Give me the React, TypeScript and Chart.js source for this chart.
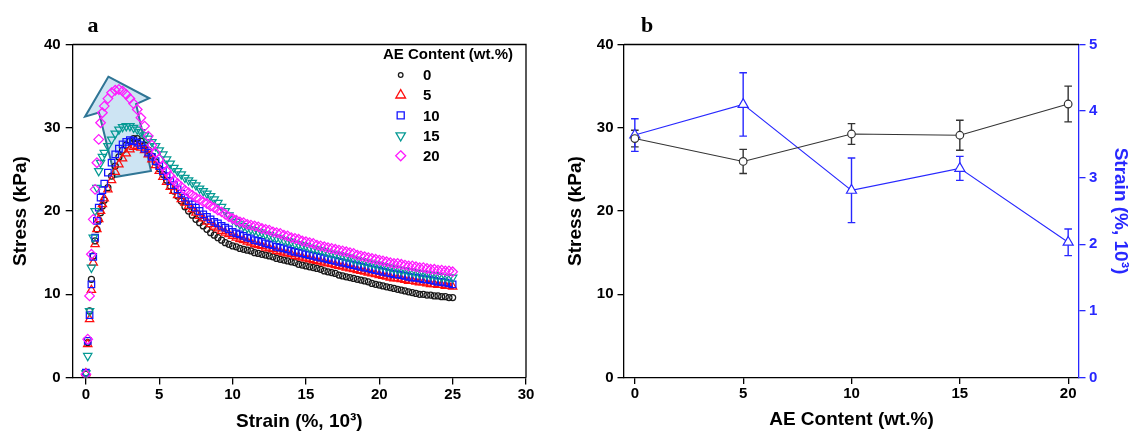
import React, { useEffect, useRef } from 'react';
import { Chart, registerables } from 'chart.js';

Chart.register(...registerables);

// ---------- Panel a: stress-strain curves ----------
const STRAIN = [
  0, 0.125, 0.25, 0.375, 0.5, 0.625, 0.75, 0.875, 1, 1.125,
  1.25, 1.5, 1.75, 2, 2.25, 2.5, 2.75, 3, 3.25, 3.5,
  3.75, 4, 4.25, 4.5, 4.75, 5, 5.25, 5.5, 5.75, 6,
  6.25, 6.5, 6.75, 7, 7.25, 7.5, 7.75, 8, 8.25, 8.5,
  8.75, 9, 9.25, 9.5, 9.75, 10, 10.25, 10.5, 10.75, 11,
  11.25, 11.5, 11.75, 12, 12.25, 12.5, 12.75, 13, 13.25, 13.5,
  13.75, 14, 14.25, 14.5, 14.75, 15, 15.25, 15.5, 15.75, 16,
  16.25, 16.5, 16.75, 17, 17.25, 17.5, 17.75, 18, 18.25, 18.5,
  18.75, 19, 19.25, 19.5, 19.75, 20, 20.25, 20.5, 20.75, 21,
  21.25, 21.5, 21.75, 22, 22.25, 22.5, 22.75, 23, 23.25, 23.5,
  23.75, 24, 24.25, 24.5, 24.75, 25,
];

const STRESS_AE0 = [
  0.4, 4.2, 8.0, 11.8, 14.6, 16.4, 17.8, 18.9, 19.8, 20.6,
  21.3, 22.8, 24.2, 25.4, 26.5, 27.3, 27.9, 28.4, 28.7, 28.7,
  28.4, 27.9, 27.3, 26.6, 25.9, 25.1, 24.4, 23.7, 23.0, 22.4,
  21.8, 21.2, 20.5, 20.0, 19.5, 19.0, 18.6, 18.2, 17.8, 17.4,
  17.1, 16.8, 16.5, 16.2, 16.0, 15.8, 15.7, 15.5, 15.4, 15.3,
  15.2, 15.0, 14.9, 14.8, 14.7, 14.6, 14.5, 14.3, 14.2, 14.1,
  14.0, 13.9, 13.8, 13.6, 13.5, 13.4, 13.3, 13.2, 13.1, 13.0,
  12.8, 12.7, 12.6, 12.5, 12.3, 12.2, 12.1, 12.0, 11.9, 11.8,
  11.7, 11.6, 11.5, 11.3, 11.2, 11.1, 11.0, 10.9, 10.8, 10.7,
  10.6, 10.5, 10.4, 10.3, 10.2, 10.1, 10.0, 10.0, 9.9, 9.9,
  9.8, 9.8, 9.7, 9.7, 9.6, 9.6,
];

const STRESS_AE5 = [
  0.5, 4.0, 7.0, 10.5, 13.8, 16.0, 17.8, 19.0, 20.0, 20.8,
  21.5, 22.6, 23.7, 24.7, 25.6, 26.3, 26.9, 27.4, 27.7, 27.8,
  27.6, 27.3, 26.8, 26.2, 25.5, 24.8, 24.1, 23.5, 22.9, 22.4,
  21.9, 21.4, 21.0, 20.6, 20.2, 19.8, 19.4, 19.1, 18.7, 18.4,
  18.1, 17.9, 17.6, 17.4, 17.2, 17.0, 16.8, 16.6, 16.5, 16.3,
  16.2, 16.0, 15.9, 15.8, 15.6, 15.5, 15.4, 15.2, 15.1, 15.0,
  14.9, 14.8, 14.6, 14.5, 14.4, 14.3, 14.2, 14.1, 14.0, 13.9,
  13.8, 13.7, 13.6, 13.5, 13.4, 13.3, 13.2, 13.1, 13.0, 12.9,
  12.8, 12.7, 12.6, 12.5, 12.4, 12.3, 12.2, 12.1, 12.0, 11.9,
  11.9, 11.8, 11.7, 11.6, 11.6, 11.5, 11.4, 11.4, 11.3, 11.2,
  11.2, 11.1, 11.1, 11.0, 11.0, 10.9,
];

const STRESS_AE10 = [
  0.6, 4.4, 7.5, 11.2, 14.5, 16.8, 18.8, 20.4, 21.6, 22.5,
  23.3, 24.6, 25.8, 26.8, 27.5, 28.0, 28.3, 28.5, 28.4, 28.2,
  27.9, 27.5, 27.0, 26.5, 26.0, 25.4, 24.8, 24.2, 23.6, 23.1,
  22.6, 22.1, 21.6, 21.2, 20.8, 20.4, 20.0, 19.6, 19.3, 19.0,
  18.7, 18.5, 18.2, 18.0, 17.8, 17.5, 17.3, 17.2, 17.0, 16.8,
  16.7, 16.5, 16.4, 16.3, 16.1, 16.0, 15.9, 15.7, 15.6, 15.5,
  15.4, 15.2, 15.1, 15.0, 14.9, 14.8, 14.7, 14.6, 14.5, 14.4,
  14.3, 14.2, 14.1, 14.0, 13.9, 13.8, 13.7, 13.6, 13.5, 13.4,
  13.3, 13.2, 13.1, 13.0, 12.9, 12.8, 12.7, 12.6, 12.5, 12.4,
  12.4, 12.3, 12.2, 12.1, 12.0, 12.0, 11.9, 11.8, 11.8, 11.7,
  11.6, 11.5, 11.5, 11.4, 11.3, 11.2,
];

const STRESS_AE15 = [
  0.5, 2.6, 8.0, 13.2, 16.8, 20.0, 22.8, 24.8, 25.8, 26.5,
  27.0, 27.8, 28.6, 29.3, 29.8, 30.1, 30.2, 30.2, 30.0, 29.8,
  29.5, 29.1, 28.7, 28.3, 27.8, 27.3, 26.8, 26.2, 25.7, 25.2,
  24.8, 24.4, 24.0, 23.7, 23.4, 23.1, 22.7, 22.4, 22.1, 21.8,
  21.4, 21.0, 20.5, 20.0, 19.5, 19.0, 18.7, 18.4, 18.2, 18.0,
  17.8, 17.7, 17.5, 17.4, 17.2, 17.1, 16.9, 16.8, 16.7, 16.5,
  16.4, 16.3, 16.1, 16.0, 15.9, 15.8, 15.6, 15.5, 15.4, 15.3,
  15.2, 15.0, 14.9, 14.8, 14.7, 14.6, 14.5, 14.4, 14.2, 14.1,
  14.0, 13.9, 13.8, 13.7, 13.6, 13.5, 13.4, 13.3, 13.2, 13.1,
  13.0, 12.9, 12.9, 12.8, 12.7, 12.6, 12.5, 12.5, 12.4, 12.3,
  12.3, 12.2, 12.1, 12.1, 12.0, 12.0,
];

const STRESS_AE20 = [
  0.4, 4.6, 9.8, 14.8, 19.0, 22.6, 25.8, 28.6, 30.6, 31.8,
  32.6, 33.5, 34.2, 34.5, 34.6, 34.4, 34.0, 33.5, 32.9, 32.2,
  31.2, 30.2, 29.0, 27.9, 27.0, 26.2, 25.4, 24.8, 24.2, 23.7,
  23.3, 22.9, 22.5, 22.2, 21.9, 21.6, 21.4, 21.1, 20.9, 20.6,
  20.4, 20.1, 19.9, 19.6, 19.3, 19.1, 18.9, 18.7, 18.6, 18.4,
  18.3, 18.2, 18.1, 17.9, 17.8, 17.7, 17.5, 17.4, 17.3, 17.1,
  17.0, 16.8, 16.7, 16.6, 16.4, 16.3, 16.2, 16.1, 15.9, 15.8,
  15.7, 15.6, 15.5, 15.4, 15.3, 15.2, 15.1, 15.0, 14.9, 14.7,
  14.6, 14.5, 14.4, 14.3, 14.2, 14.1, 14.0, 13.9, 13.8, 13.7,
  13.7, 13.6, 13.5, 13.4, 13.4, 13.3, 13.2, 13.2, 13.1, 13.0,
  13.0, 12.9, 12.9, 12.8, 12.8, 12.7,
];

const AE_LABELS = ['0', '5', '10', '15', '20'];
const A_X_TICKS = [0, 5, 10, 15, 20, 25, 30];
const A_Y_TICKS = [0, 10, 20, 30, 40];

// decorative arrow outline (data coordinates: strain, stress)
const ARROW_X = [1.53, 4.32, 3.42, 4.44, 1.98, 0.89, -0.06];
const ARROW_Y = [36.13, 33.54, 32.85, 24.8, 24.08, 31.83, 31.33];

// ---------- Panel b: summary ----------
const AE_CONTENT = [0, 5, 10, 15, 20];
const STRESS_MEAN = [28.7, 25.95, 29.25, 29.1, 32.85];
const STRESS_SD = [1.0, 1.45, 1.25, 1.8, 2.15];
const STRAIN_MEAN = [3.64, 4.1, 2.81, 3.14, 2.03];
const STRAIN_SD = [0.245, 0.475, 0.485, 0.18, 0.2];
const B_X_TICKS = [0, 5, 10, 15, 20];
const B_Y_TICKS = [0, 10, 20, 30, 40];
const B_Y2_TICKS = [0, 1, 2, 3, 4, 5];

const SANS = '"Liberation Sans", Arial, Helvetica, sans-serif';
const SERIF = '"Liberation Serif", "Times New Roman", serif';
const BLUE = '#2828ff';

const SERIES_STYLE = [
  { values: STRESS_AE0, color: '#1a1a1a', style: 'circle', rotation: 0, radius: 3.0 },
  { values: STRESS_AE5, color: '#ff0d0d', style: 'triangle', rotation: 0, radius: 4.8 },
  { values: STRESS_AE10, color: '#1414ff', style: 'rect', rotation: 0, radius: 4.6 },
  { values: STRESS_AE15, color: '#069a94', style: 'triangle', rotation: 180, radius: 4.8 },
  { values: STRESS_AE20, color: '#ff1aff', style: 'rectRot', rotation: 0, radius: 4.8 },
];

const tickFont = { family: SANS, size: 15, weight: 'bold' as const };
const titleFont = { family: SANS, size: 19, weight: 'bold' as const, lineHeight: 1 };

function setTicks(list: number[]) {
  return (scale: any) => {
    scale.ticks = list.map((v) => ({ value: v }));
  };
}

function drawMarker(ctx: CanvasRenderingContext2D, style: string, rot: number, x: number, y: number, r: number, color: string) {
  ctx.beginPath();
  if (style === 'circle') {
    ctx.arc(x, y, r, 0, Math.PI * 2);
  } else if (style === 'triangle') {
    const s = rot === 180 ? -1 : 1;
    ctx.moveTo(x, y - s * r);
    ctx.lineTo(x + r * 0.866, y + s * r * 0.5);
    ctx.lineTo(x - r * 0.866, y + s * r * 0.5);
    ctx.closePath();
  } else if (style === 'rect') {
    const h = r * Math.SQRT1_2;
    ctx.rect(x - h, y - h, 2 * h, 2 * h);
  } else if (style === 'rectRot') {
    ctx.moveTo(x, y - r);
    ctx.lineTo(x + r, y);
    ctx.lineTo(x, y + r);
    ctx.lineTo(x - r, y);
    ctx.closePath();
  }
  ctx.strokeStyle = color;
  ctx.lineWidth = 1.3;
  ctx.stroke();
}

const panelAPlugin = {
  id: 'panelA',
  beforeDatasetsDraw(chart: any) {
    const { ctx, scales } = chart;
    ctx.save();
    ctx.beginPath();
    ARROW_X.forEach((xv, i) => {
      const px = scales.x.getPixelForValue(xv);
      const py = scales.y.getPixelForValue(ARROW_Y[i]);
      if (i === 0) ctx.moveTo(px, py);
      else ctx.lineTo(px, py);
    });
    ctx.closePath();
    ctx.fillStyle = 'rgba(200, 225, 242, 0.9)';
    ctx.fill();
    ctx.strokeStyle = '#2f7595';
    ctx.lineWidth = 2;
    ctx.lineJoin = 'miter';
    ctx.stroke();
    ctx.restore();
  },
  afterDraw(chart: any) {
    const { ctx, chartArea } = chart;
    ctx.save();
    ctx.strokeStyle = '#000';
    ctx.lineWidth = 1.3;
    ctx.beginPath();
    ctx.moveTo(chartArea.left, chartArea.top);
    ctx.lineTo(chartArea.right, chartArea.top);
    ctx.lineTo(chartArea.right, chartArea.bottom);
    ctx.stroke();

    // panel letter
    ctx.fillStyle = '#000';
    ctx.font = `bold 22px ${SERIF}`;
    ctx.textAlign = 'center';
    ctx.textBaseline = 'alphabetic';
    ctx.fillText('a', 93, 32);

    // legend
    ctx.font = `bold 15px ${SANS}`;
    ctx.textAlign = 'left';
    ctx.textBaseline = 'middle';
    ctx.fillText('AE Content (wt.%)', 383, 55);
    const legendR = [2.3, 5.6, 5.0, 5.4, 5.0];
    SERIES_STYLE.forEach((s, i) => {
      const y = 75 + i * 20.2;
      drawMarker(ctx, s.style, s.rotation, 400.7, y, legendR[i], s.color);
      ctx.fillStyle = '#000';
      ctx.fillText(AE_LABELS[i], 423, y + 1);
    });
    ctx.restore();
  },
};

const errorBarPlugin = {
  id: 'errorBars',
  beforeDatasetsDraw(chart: any) {
    const { ctx, scales } = chart;
    chart.data.datasets.forEach((ds: any) => {
      if (!ds.errors) return;
      const xs = scales.x;
      const ys = scales[ds.yAxisID];
      ctx.save();
      ctx.strokeStyle = ds.borderColor;
      ctx.lineWidth = 1.4;
      ds.data.forEach((p: any, i: number) => {
        const e = ds.errors[i];
        const px = xs.getPixelForValue(p.x);
        const top = ys.getPixelForValue(p.y + e);
        const bot = ys.getPixelForValue(p.y - e);
        ctx.beginPath();
        ctx.moveTo(px, top);
        ctx.lineTo(px, bot);
        ctx.moveTo(px - 3.8, top);
        ctx.lineTo(px + 3.8, top);
        ctx.moveTo(px - 3.8, bot);
        ctx.lineTo(px + 3.8, bot);
        ctx.stroke();
      });
      ctx.restore();
    });
  },
  afterDraw(chart: any) {
    const { ctx, chartArea } = chart;
    ctx.save();
    ctx.strokeStyle = '#000';
    ctx.lineWidth = 1.3;
    ctx.beginPath();
    ctx.moveTo(chartArea.left, chartArea.top);
    ctx.lineTo(chartArea.right, chartArea.top);
    ctx.stroke();
    ctx.fillStyle = '#000';
    ctx.font = `bold 22px ${SERIF}`;
    ctx.textAlign = 'center';
    ctx.textBaseline = 'alphabetic';
    ctx.fillText('b', 92, 32);
    ctx.restore();
  },
};

function axisGrid(color: string, tickLength: number) {
  return { drawOnChartArea: false, drawTicks: true, tickLength, color, tickColor: color, lineWidth: 1.3 };
}

export default function App() {
  const aRef = useRef<HTMLCanvasElement>(null);
  const bRef = useRef<HTMLCanvasElement>(null);

  useEffect(() => {
    const chartA = new Chart(aRef.current as HTMLCanvasElement, {
      type: 'scatter',
      data: {
        datasets: SERIES_STYLE.map((s, i) => ({
          label: AE_LABELS[i],
          data: STRAIN.map((x, j) => ({ x, y: s.values[j] })).filter((p) => p.y !== undefined),
          pointStyle: s.style as any,
          rotation: s.rotation,
          pointRadius: s.radius,
          borderColor: s.color,
          backgroundColor: 'rgba(0,0,0,0)',
          borderWidth: 1.25,
          showLine: false,
          order: 5 - i,
        })),
      },
      options: {
        animation: false,
        responsive: false,
        maintainAspectRatio: false,
        devicePixelRatio: 1,
        events: [],
        layout: { padding: { left: 0, right: 41, top: 44.5, bottom: 0 } },
        plugins: { legend: { display: false }, tooltip: { enabled: false } },
        scales: {
          x: {
            type: 'linear',
            min: -0.9,
            max: 30,
            afterBuildTicks: setTicks(A_X_TICKS),
            afterFit: (s: any) => { s.height = 54.5; },
            grid: axisGrid('#000', 7),
            border: { display: true, color: '#000', width: 1.3 },
            ticks: { font: tickFont, color: '#000', padding: 1, maxRotation: 0, autoSkip: false },
            title: { display: true, text: 'Strain (%, 10³)', font: titleFont, color: '#000', padding: { top: 0, bottom: 0.5 } },
          },
          y: {
            type: 'linear',
            min: 0,
            max: 40,
            afterBuildTicks: setTicks(A_Y_TICKS),
            afterFit: (s: any) => { s.width = 72.7; },
            grid: axisGrid('#000', 7),
            border: { display: true, color: '#000', width: 1.3 },
            ticks: { font: tickFont, color: '#000', padding: 5, autoSkip: false },
            title: { display: true, text: 'Stress (kPa)', font: titleFont, color: '#000', padding: { top: 11, bottom: 0 } },
          },
        },
      } as any,
      plugins: [panelAPlugin],
    });

    const chartB = new Chart(bRef.current as HTMLCanvasElement, {
      type: 'scatter',
      data: {
        datasets: [
          {
            label: 'Stress',
            data: AE_CONTENT.map((x, i) => ({ x, y: STRESS_MEAN[i] })),
            errors: STRESS_SD,
            yAxisID: 'y',
            showLine: true,
            borderColor: '#333333',
            backgroundColor: '#ffffff',
            borderWidth: 1.1,
            pointStyle: 'circle',
            pointRadius: 3.8,
            pointBorderWidth: 1.2,
            pointBackgroundColor: '#ffffff',
          } as any,
          {
            label: 'Strain',
            data: AE_CONTENT.map((x, i) => ({ x, y: STRAIN_MEAN[i] })),
            errors: STRAIN_SD,
            yAxisID: 'y2',
            showLine: true,
            borderColor: BLUE,
            backgroundColor: '#ffffff',
            borderWidth: 1.1,
            pointStyle: 'triangle',
            pointRadius: 5.8,
            pointBorderWidth: 1.2,
            pointBackgroundColor: '#ffffff',
          } as any,
        ],
      },
      options: {
        animation: false,
        responsive: false,
        maintainAspectRatio: false,
        devicePixelRatio: 1,
        events: [],
        layout: { padding: { left: 0, right: 0, top: 44.5, bottom: 0 } },
        plugins: { legend: { display: false }, tooltip: { enabled: false } },
        scales: {
          x: {
            type: 'linear',
            min: -0.5,
            max: 20.5,
            afterBuildTicks: setTicks(B_X_TICKS),
            afterFit: (s: any) => { s.height = 54.5; },
            grid: axisGrid('#000', 6.5),
            border: { display: true, color: '#000', width: 1.3 },
            ticks: { font: tickFont, color: '#000', padding: 1, maxRotation: 0, autoSkip: false },
            title: { display: true, text: 'AE Content (wt.%)', font: titleFont, color: '#000', padding: { top: 0, bottom: 3 } },
          },
          y: {
            type: 'linear',
            position: 'left',
            min: 0,
            max: 40,
            afterBuildTicks: setTicks(B_Y_TICKS),
            afterFit: (s: any) => { s.width = 69; },
            grid: axisGrid('#000', 6.5),
            border: { display: true, color: '#000', width: 1.3 },
            ticks: { font: tickFont, color: '#000', padding: 4, autoSkip: false },
            title: { display: true, text: 'Stress (kPa)', font: titleFont, color: '#000', padding: { top: 11, bottom: 0 } },
          },
          y2: {
            type: 'linear',
            position: 'right',
            min: 0,
            max: 5,
            afterBuildTicks: setTicks(B_Y2_TICKS),
            afterFit: (s: any) => { s.width = 55; },
            grid: axisGrid(BLUE, 6.5),
            border: { display: true, color: BLUE, width: 1.3 },
            ticks: { font: tickFont, color: BLUE, padding: 3.5, autoSkip: false },
            title: { display: true, text: 'Strain (%, 10³)', font: titleFont, color: BLUE, padding: { top: 4.5, bottom: 0 } },
          },
        },
      } as any,
      plugins: [errorBarPlugin],
    });

    return () => {
      chartA.destroy();
      chartB.destroy();
    };
  }, []);

  return (
    <div style={{ position: 'fixed', left: 0, top: 0, width: 1134, height: 432, background: '#ffffff' }}>
      <canvas
        ref={aRef}
        width={567}
        height={432}
        style={{ position: 'absolute', left: 0, top: 0, width: 567, height: 432 }}
      />
      <canvas
        ref={bRef}
        width={579}
        height={432}
        style={{ position: 'absolute', left: 555, top: 0, width: 579, height: 432 }}
      />
    </div>
  );
}
